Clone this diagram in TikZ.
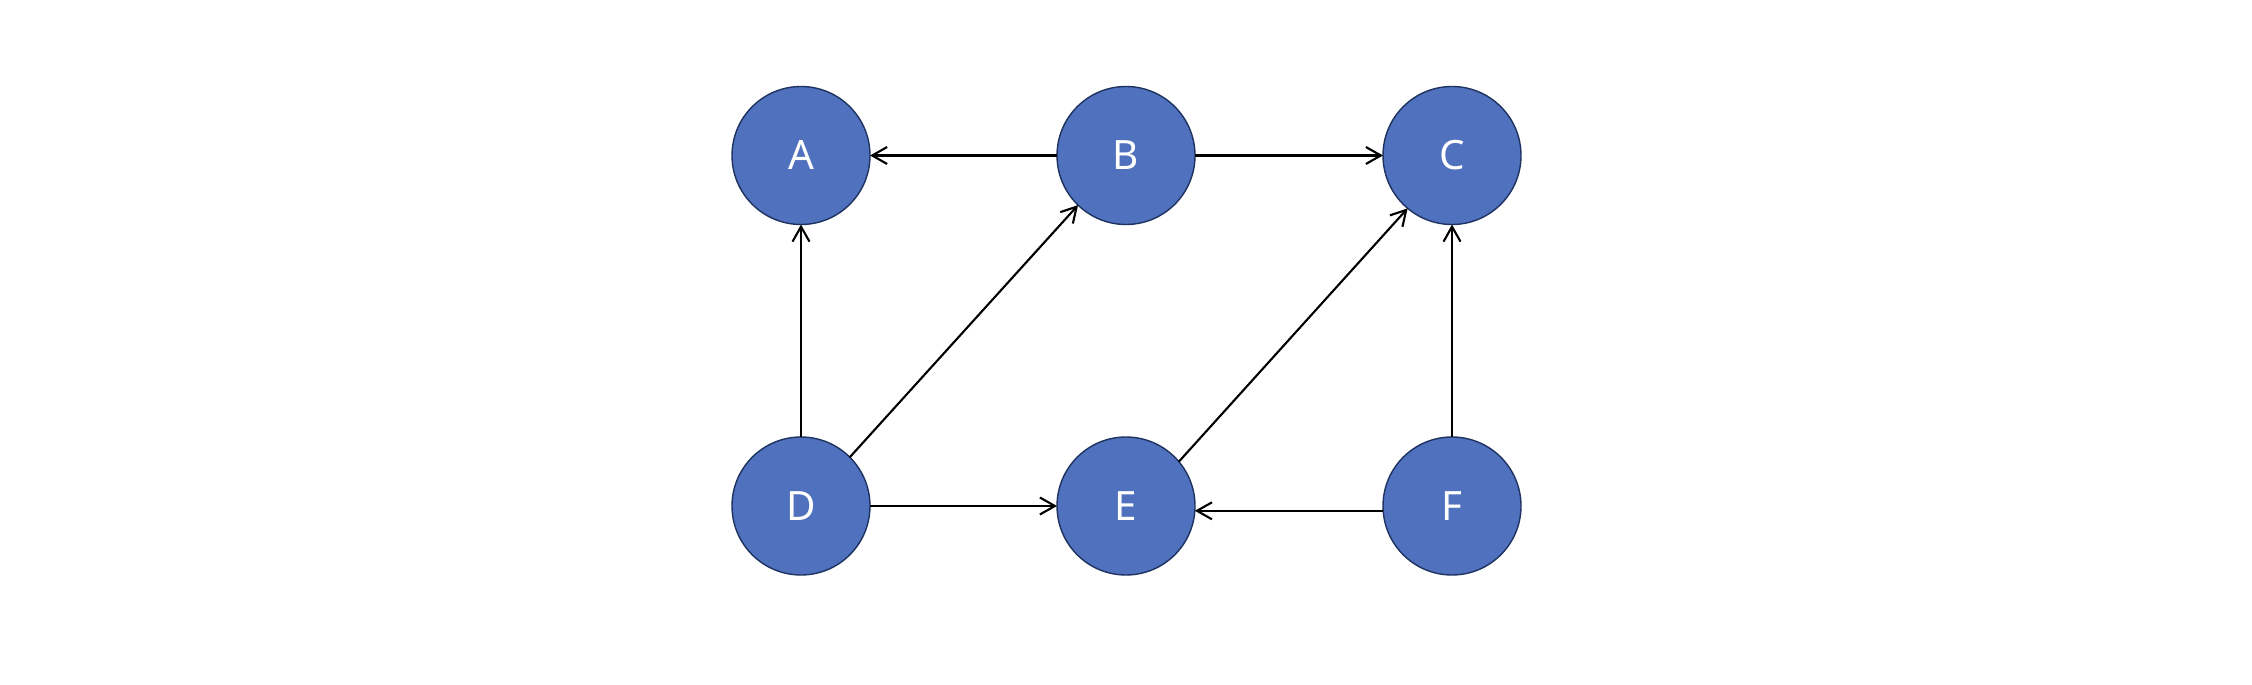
\documentclass[tikz,border=0pt]{standalone}
\usepackage{fontspec}
\setmainfont{Noto Sans}
\usetikzlibrary{arrows.meta}
\definecolor{vxfill}{HTML}{4F71BE}
\definecolor{vxline}{HTML}{1F3360}
\tikzset{vx/.style={circle, minimum size=1.38cm, inner sep=0pt, outer sep=0pt, fill=vxfill, draw=vxline, line width=.4pt, text=white, font=\fontsize{11.5}{12}\selectfont}}
\tikzset{edge/.style={color=black, line width=.6pt, -{Straight Barb[length=.15cm, width=.17cm]}}}

\begin{document}
\begin{tikzpicture}
  \useasboundingbox (0,0) rectangle (22.52,6.84);

  \node[vx] (A) at (8.01,5.285) {A};
  \node[vx] (B) at (11.26,5.285) {B};
  \node[vx] (C) at (14.52,5.285) {C};
  \node[vx] (D) at (8.01,1.78) {D};
  \node[vx] (E) at (11.26,1.78) {E};
  \node[vx] (F) at (14.52,1.78) {F};

    \draw[edge] (B) -- (A);
    \draw[edge] (B) -- (C);
    \draw[edge] (D) -- (A);
    \draw[edge] (D.45) -- (B.226);
    \draw[edge] (D) -- (E);
    \draw[edge] (E.40) -- (C.230);
    \draw[edge] (F.184) -- (E.356);
    \draw[edge] (F) -- (C);
\end{tikzpicture}
\end{document}
